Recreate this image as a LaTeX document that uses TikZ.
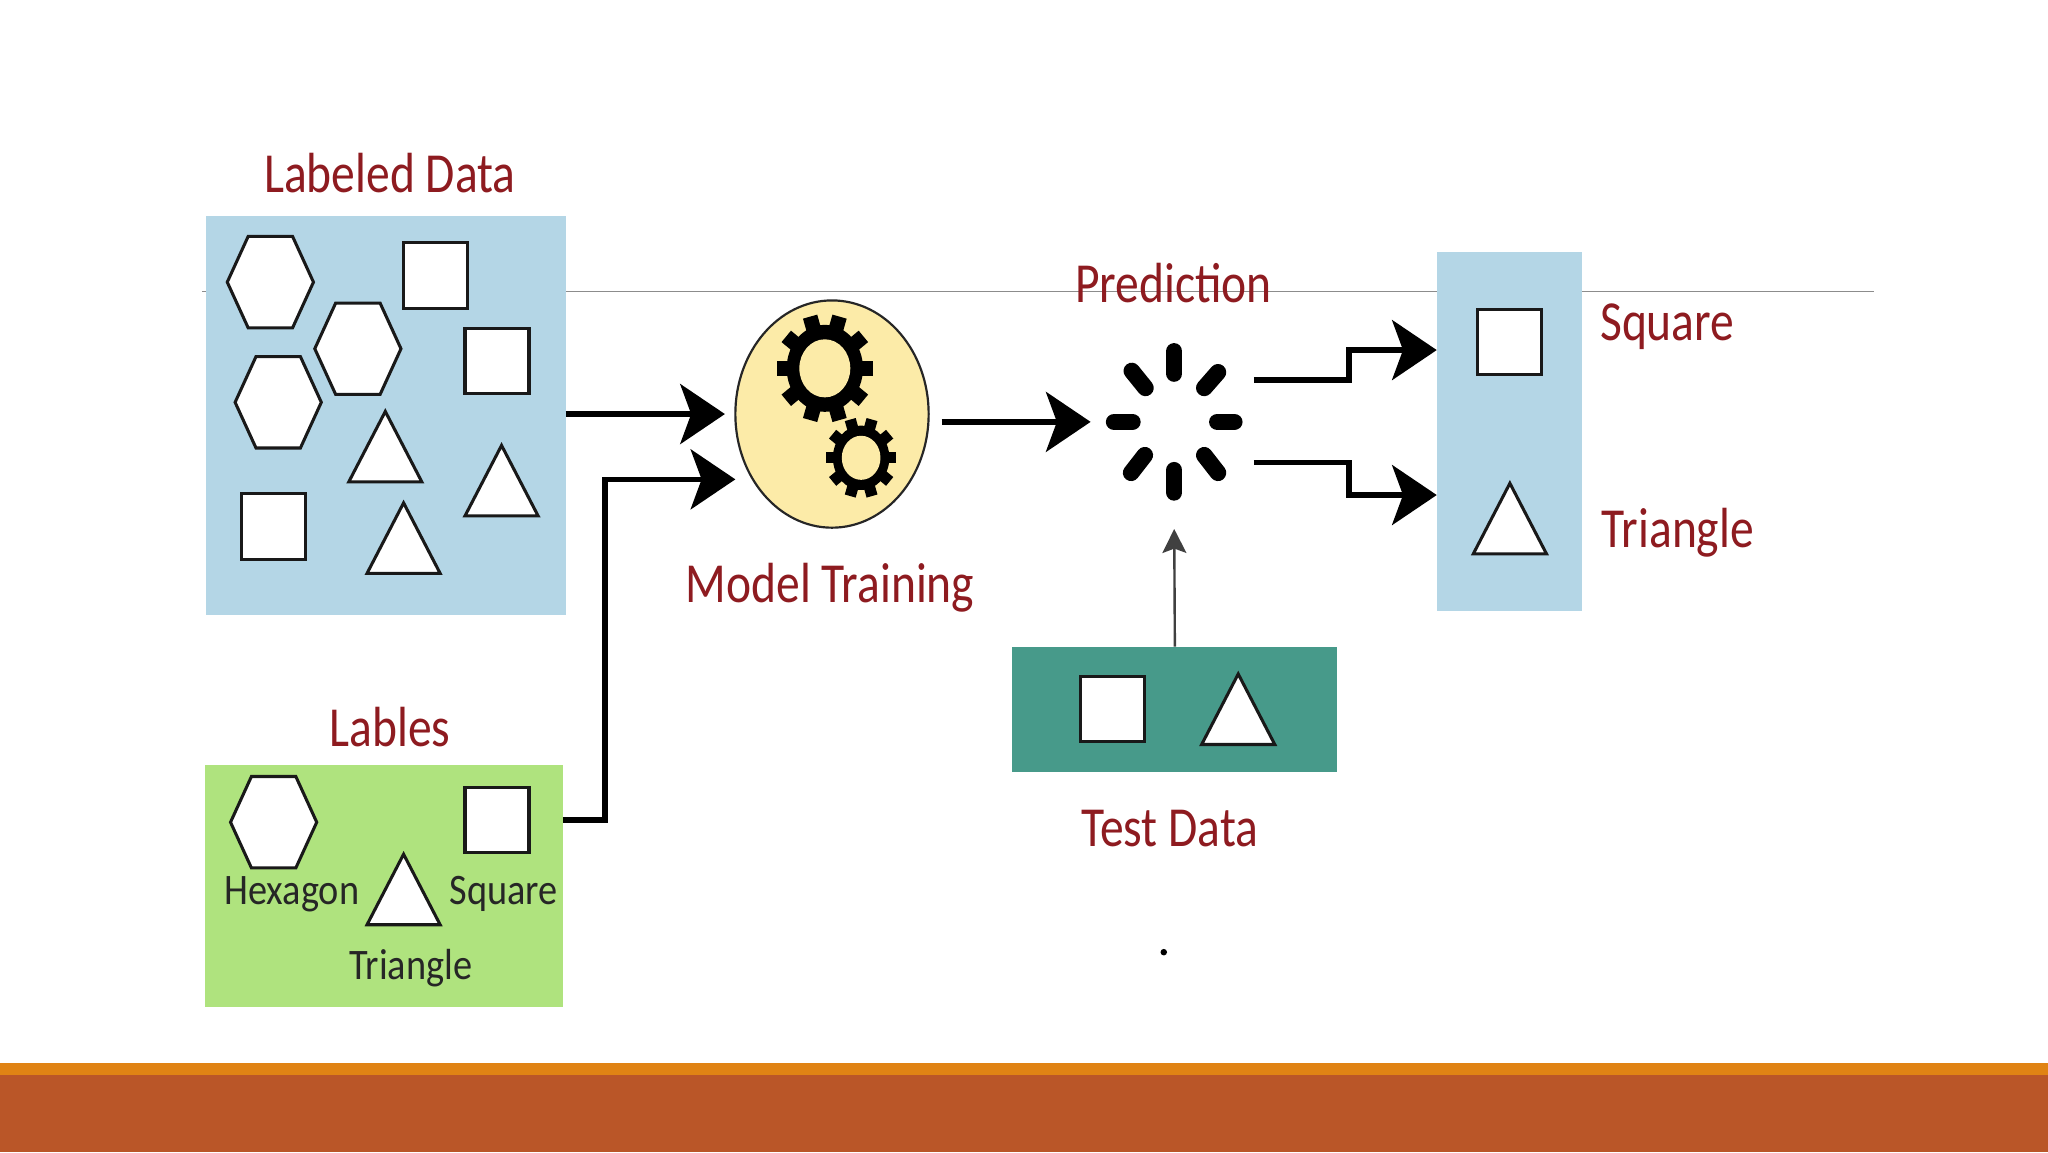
\documentclass[tikz,border=0pt]{standalone}
\usepackage{fontspec}
\setmainfont{Carlito}
\usetikzlibrary{arrows.meta,shapes.geometric}
\definecolor{panelblue}{HTML}{B4D6E6}
\definecolor{panelgreen}{HTML}{AFE37E}
\definecolor{panelteal}{HTML}{479A8A}
\definecolor{labelred}{HTML}{8E1B20}
\definecolor{ballyellow}{HTML}{FCEBA8}
\definecolor{stripeorange}{HTML}{E08314}
\definecolor{bandbrick}{HTML}{BA5628}
\newcommand\narrow[1]{\scalebox{.84}[1]{#1}}
\newcommand\narrowb[1]{\scalebox{.88}[1]{#1}}
\newcommand\hexa[2]{\draw[shapeline] (#1-33,#2) -- (#1-17,#2-35) -- (#1+17,#2-35) -- (#1+33,#2) -- (#1+17,#2+35) -- (#1-17,#2+35) -- cycle;}
\newcommand\squ[2]{\draw[shapeline] (#1-24.5,#2-25) rectangle (#1+24.5,#2+25);}
\newcommand\tri[2]{\draw[shapeline] (#1,#2) -- (#1+28,#2+54) -- (#1-28,#2+54) -- cycle;}
% centre x, centre y, tooth-tip radius, hole radius, tooth width
\newcommand\gearshape[5]{%
  \begin{scope}[shift={(#1,#2)},yscale=1.14]
    \fill[black] (0,0) circle (#3*0.8);
    \foreach \a in {0,36,...,324}{\draw[black,line width=#5] (\a:#3*0.6) -- (\a:#3);}
    \fill[ballyellow] (0,0) circle (#4);
  \end{scope}}
\tikzset{
  shapeline/.style={draw=black!90,fill=white,line width=1.4pt,line join=miter},
  redtext/.style={text=labelred,font=\fontsize{26}{28}\selectfont,inner sep=0pt},
  blacktext/.style={text=black!85,font=\fontsize{20}{22}\selectfont,inner sep=0pt},
  panel/.style={rectangle,inner sep=0pt,outer sep=0pt,draw=none},
  flow/.style={black,line width=2.6pt,-{Stealth[length=20.5pt,width=27.5pt,inset=5pt]},line join=miter},
  thinflow/.style={black!75,line width=1.1pt,-{Stealth[length=11pt,width=11pt,inset=2pt]}},
  spoke/.style={black,line width=7.6pt,line cap=round},
}
\begin{document}
\begin{tikzpicture}[x=0.6pt,y=-0.6pt]
\useasboundingbox (0,0) rectangle (1568,882);
\fill[white] (0,0) rectangle (1568,882);
\fill[bandbrick] (0,823) rectangle (1568,882);
\fill[stripeorange] (0,814) rectangle (1568,823);
\coordinate (ruleL) at (155,223);
\coordinate (ruleR) at (1435,223);
\draw[black!45,line width=0.6pt] (ruleL) -- (ruleR);

% panels
\node[panel,fill=panelblue,minimum width=165pt,minimum height=183.6pt] (labeled) at (295.5,318) {};
\node[panel,fill=panelgreen,minimum width=164.4pt,minimum height=111pt] (lables) at (294,678.5) {};
\node[panel,fill=panelblue,minimum width=66.6pt,minimum height=165pt] (result) at (1155.5,330.5) {};
\node[panel,fill=panelteal,minimum width=149.4pt,minimum height=57.6pt] (test) at (899.5,543) {};

% labeled data shapes
\hexa{207}{216}\hexa{274}{267}\hexa{213}{308}
\squ{333.5}{211}\squ{380.5}{276.5}\squ{209.5}{403}
\tri{295}{315}\tri{384}{341}\tri{309}{385}
% labels shapes
\hexa{209.5}{629.5}\squ{380.5}{628}\tri{309}{654}
% test shapes
\squ{851.5}{543}\tri{948}{516}
% result shapes
\squ{1155.5}{262}\tri{1156}{370}

% model
\node[ellipse,draw=black!85,fill=ballyellow,line width=1pt,minimum width=88.8pt,minimum height=104.4pt,inner sep=0pt] (model) at (637,317) {};
\gearshape{631.5}{282}{36.5}{19.5}{6.8pt}
\gearshape{659.3}{350.5}{27}{14.8}{5.2pt}

% prediction spinner
\coordinate (pred) at (899,323);
\draw[spoke] (899,269) -- (899,286);
\draw[spoke] (899,360) -- (899,377);
\draw[spoke] (853,323) -- (867,323);
\draw[spoke] (932,323) -- (945,323);
\draw[spoke] (866.5,284) -- (877,297);
\draw[spoke] (932.5,285) -- (922,297);
\draw[spoke] (876.5,348.5) -- (866,362);
\draw[spoke] (922,348.5) -- (932.5,362);

% connector anchors
\coordinate (m1) at (563,367);
\coordinate (lout) at (431,628);
\coordinate (bend) at (463,628);
\coordinate (mout) at (721,323);
\coordinate (pin) at (835,323);
\coordinate (up1) at (960,291);
\coordinate (up2) at (1033,291);
\coordinate (up3) at (1033,268);
\coordinate (dn1) at (960,354);
\coordinate (dn2) at (1033,354);
\coordinate (dn3) at (1033,379);
\coordinate (tin) at (899,405);
\coordinate (mtip) at (555,317);

\draw[flow] (labeled.east |- mtip) -- (mtip);
\draw[flow] (lout) -- (bend) -- (bend |- m1) -- (m1);
\draw[flow] (mout) -- (pin);
\draw[flow] (up1) -- (up2) -- (up3) -- (result.west |- up3);
\draw[flow] (dn1) -- (dn2) -- (dn3) -- (result.west |- dn3);
\draw[thinflow] (test.north) -- (tin);

% text
\node[redtext] (tLabeled) at (298.5,132.5) {\narrow{Labeled Data}};
\node[redtext] (tLables) at (298.5,556.5) {\narrow{Lables}};
\node[redtext] (tPred) at (898.5,216.5) {\narrow{Prediction}};
\node[redtext] (tModel) at (635.5,450) {\narrow{Model Training}};
\node[redtext] (tTest) at (895.5,634) {\narrow{Test Data}};
\node[redtext] (tSquare) at (1276.5,250.5) {\narrow{Square}};
\node[redtext] (tTriangle) at (1284.5,408) {\narrow{Triangle}};
\node[blacktext] (bHex) at (223.5,685) {\narrowb{Hexagon}};
\node[blacktext] (bSq) at (385.5,684) {\narrowb{Square}};
\node[blacktext] (bTri) at (314.5,741) {\narrowb{Triangle}};

\fill[black] (891,729) circle (2.5);
\end{tikzpicture}
\end{document}
